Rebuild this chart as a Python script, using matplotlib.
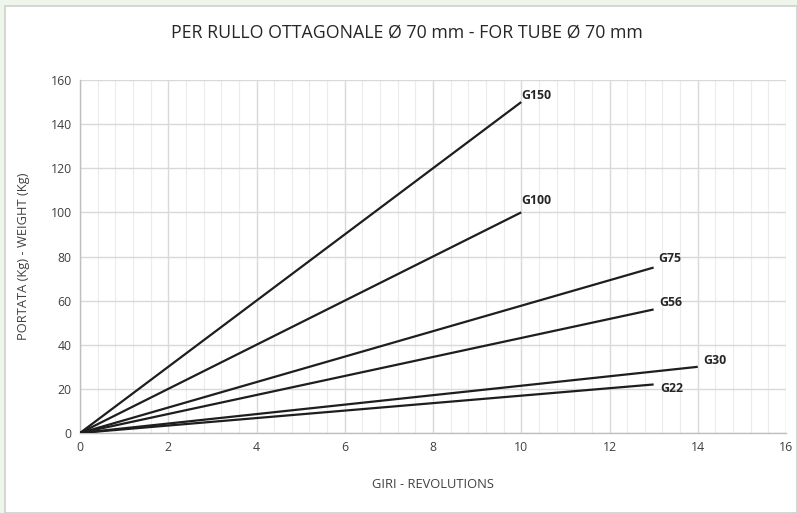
import matplotlib
matplotlib.use("Agg")
import matplotlib.pyplot as plt
from matplotlib.patches import Rectangle
from matplotlib.ticker import MultipleLocator

# Load curves: revolutions vs weight, each a straight line from the origin
series_names = ["G150", "G100", "G75", "G56", "G30", "G22"]
end_revolutions = [10, 10, 13, 13, 14, 13]
end_weights = [150, 100, 75, 56, 30, 22]
# label offsets (points) relative to each line end
label_offsets = [(0, 0), (0, 4), (3, 2), (4, 0), (4, 0), (5, -3)]
label_va = ["bottom", "bottom", "bottom", "bottom", "bottom", "center"]

x_ticks = [0, 2, 4, 6, 8, 10, 12, 14, 16]
y_ticks = [0, 20, 40, 60, 80, 100, 120, 140, 160]

plt.rcParams["font.family"] = ["Open Sans", "DejaVu Sans"]

fig = plt.figure(figsize=(7.97, 5.13), dpi=100)
fig.patch.set_facecolor("#eef6ec")
W, H = 797, 513
fig.patches.append(Rectangle((5 / W, 0), 1 - 5 / W, 1 - 6 / H, transform=fig.transFigure,
                             facecolor="white", edgecolor="#d0d0d0", linewidth=1.2, zorder=-10))

ax = fig.add_axes([80 / W, 1 - 433 / H, (786 - 80) / W, (433 - 80) / H])
ax.set_facecolor("white")

for name, xe, ye, off, va in zip(series_names, end_revolutions, end_weights, label_offsets, label_va):
    ax.plot([0, xe], [0, ye], color="#1e1e1e", linewidth=1.6, solid_capstyle="butt", zorder=3)
    ax.annotate(name, (xe, ye), xytext=off, textcoords="offset points",
                ha="left", va=va, fontsize=8.8, fontweight="bold", color="#262626")

ax.set_xlim(0, 16)
ax.set_ylim(0, 160)
ax.set_xticks(x_ticks)
ax.set_yticks(y_ticks)
ax.xaxis.set_minor_locator(MultipleLocator(0.4))
ax.grid(which="major", axis="both", color="#d9d9d9", linewidth=1.0, zorder=1)
ax.grid(which="minor", axis="x", color="#ececec", linewidth=0.8, zorder=1)
ax.tick_params(which="both", length=0, labelsize=8.8, labelcolor="#404040", pad=6)

for s in ["top", "right"]:
    ax.spines[s].set_visible(False)
for s in ["left", "bottom"]:
    ax.spines[s].set_color("#bfbfbf")
    ax.spines[s].set_linewidth(1.0)

ax.set_xlabel("GIRI - REVOLUTIONS", fontsize=9.3, color="#404040", labelpad=17)
ax.set_ylabel("PORTATA (Kg) - WEIGHT (Kg)", fontsize=9.3, color="#404040", labelpad=15)

fig.text(407 / W, 1 - 33 / H, "PER RULLO OTTAGONALE Ø 70 mm - FOR TUBE Ø 70 mm",
         ha="center", va="center", fontsize=12.8, color="#262626")

fig.savefig("out.png", dpi=100, facecolor=fig.get_facecolor())
